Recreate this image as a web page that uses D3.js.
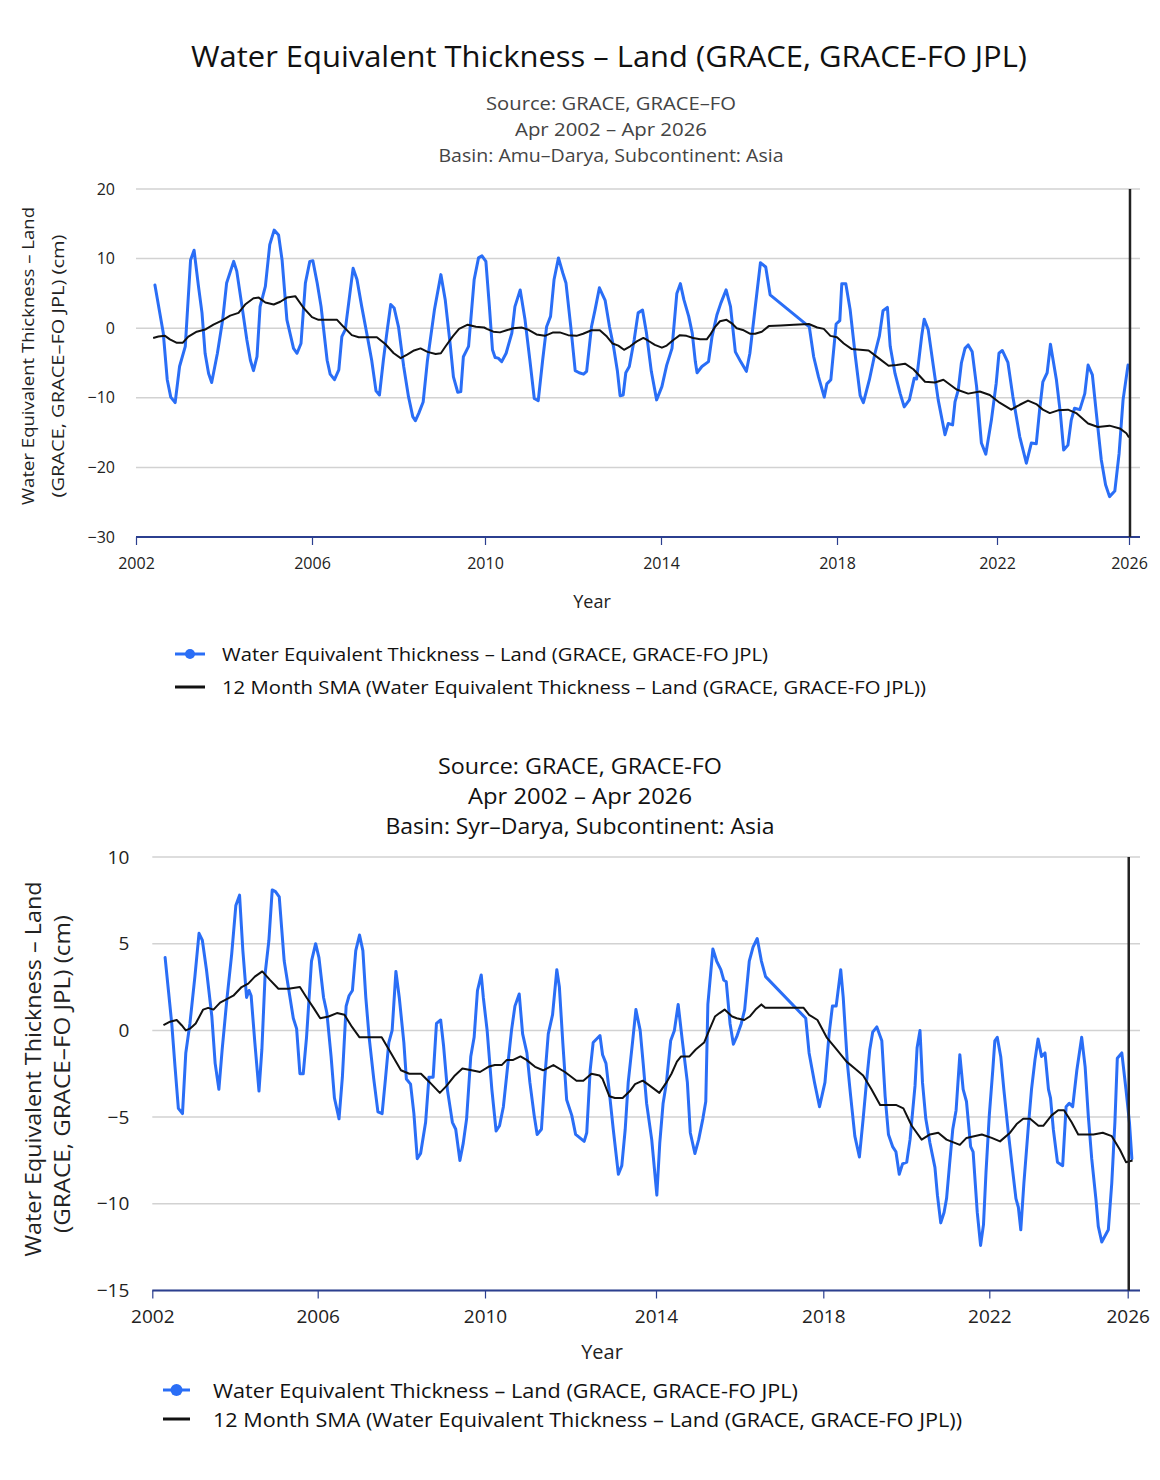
<!DOCTYPE html>
<html>
<head>
<meta charset="utf-8">
<script src="https://cdn.jsdelivr.net/npm/d3@7"></script>
<style>
  html, body { margin: 0; padding: 0; background: #fff; }
  svg { display: block; font-family: "Open Sans", "Noto Sans", sans-serif; }
</style>
</head>
<body>
<svg id="chart" width="1160" height="1480"></svg>
<script>
// ---------------- DATA ----------------
const tickYears = [2002, 2006, 2010, 2014, 2018, 2022, 2026];
const markerYear = 2026.03;

const amuTicks = [-30, -20, -10, 0, 10, 20];
const syrTicks = [-15, -10, -5, 0, 5, 10];

// Amu-Darya, monthly water equivalent thickness (cm) [decimal year, value]
const amuWet = [
[2002.43,6.2],[2002.62,-0.7],[2002.71,-7.4],[2002.79,-9.9],[2002.89,-10.7],[2002.99,-5.5],[2003.12,-2.6],
[2003.24,9.8],[2003.32,11.2],[2003.42,6.0],[2003.50,2.2],[2003.57,-3.6],[2003.65,-6.5],[2003.72,-7.8],
[2003.85,-3.6],[2003.97,1.2],[2004.06,6.5],[2004.22,9.6],[2004.29,8.2],[2004.41,3.1],[2004.52,-1.7],
[2004.60,-4.6],[2004.67,-6.1],[2004.75,-4.1],[2004.82,3.1],[2004.94,6.0],[2005.04,12.0],[2005.14,14.1],
[2005.24,13.4],[2005.32,9.8],[2005.43,1.2],[2005.58,-2.9],[2005.66,-3.6],[2005.75,-2.2],[2005.85,6.5],
[2005.95,9.6],[2006.02,9.7],[2006.12,6.5],[2006.21,3.1],[2006.35,-4.6],[2006.42,-6.6],[2006.52,-7.4],
[2006.62,-6.0],[2006.69,-1.2],[2006.77,-0.2],[2006.95,8.6],[2007.04,7.0],[2007.15,3.1],[2007.28,-1.2],
[2007.38,-4.6],[2007.48,-9.0],[2007.56,-9.6],[2007.65,-4.6],[2007.73,-0.7],[2007.82,3.4],[2007.90,2.9],
[2008.00,0.2],[2008.12,-5.5],[2008.23,-9.8],[2008.33,-12.7],[2008.39,-13.3],[2008.47,-12.2],[2008.57,-10.6],
[2008.67,-4.6],[2008.83,2.6],[2008.98,7.7],[2009.08,4.1],[2009.20,-2.6],[2009.27,-7.0],[2009.37,-9.2],
[2009.44,-9.1],[2009.50,-4.1],[2009.62,-2.6],[2009.75,7.0],[2009.85,10.1],[2009.93,10.4],[2010.02,9.6],
[2010.10,3.1],[2010.17,-3.1],[2010.23,-4.2],[2010.30,-4.3],[2010.38,-4.8],[2010.48,-3.6],[2010.61,-0.7],
[2010.68,3.1],[2010.80,5.5],[2010.91,1.2],[2011.02,-4.6],[2011.12,-10.1],[2011.21,-10.4],[2011.31,-4.6],
[2011.40,0.2],[2011.49,1.7],[2011.57,7.0],[2011.67,10.1],[2011.77,7.9],[2011.84,6.5],[2011.95,0.2],
[2012.05,-6.1],[2012.14,-6.4],[2012.24,-6.6],[2012.31,-6.2],[2012.42,0.2],[2012.50,2.6],[2012.60,5.8],
[2012.73,4.0],[2012.83,0.2],[2012.92,-2.6],[2013.01,-6.2],[2013.07,-9.7],[2013.14,-9.6],[2013.20,-6.4],
[2013.28,-5.5],[2013.39,-1.7],[2013.48,2.2],[2013.58,2.6],[2013.67,-0.7],[2013.78,-6.2],[2013.90,-10.3],
[2014.02,-8.4],[2014.13,-5.3],[2014.25,-2.9],[2014.36,5.0],[2014.44,6.4],[2014.52,4.1],[2014.63,1.7],
[2014.71,-0.7],[2014.78,-4.8],[2014.82,-6.4],[2014.93,-5.5],[2015.08,-4.8],[2015.16,-1.2],[2015.27,1.9],
[2015.36,3.6],[2015.48,5.5],[2015.58,3.1],[2015.69,-3.4],[2015.81,-4.8],[2015.94,-6.2],[2016.02,-3.6],
[2016.13,2.4],[2016.26,9.4],[2016.38,8.8],[2016.48,4.8],[2017.37,0.2],[2017.47,-4.1],[2017.58,-7.0],
[2017.71,-9.9],[2017.77,-8.0],[2017.86,-7.4],[2017.98,0.6],[2018.07,1.1],[2018.12,6.4],[2018.22,6.4],
[2018.33,2.6],[2018.46,-4.1],[2018.58,-9.7],[2018.66,-10.7],[2018.81,-7.4],[2018.95,-3.6],[2019.06,-1.1],
[2019.15,2.5],[2019.26,3.0],[2019.33,-2.6],[2019.45,-6.5],[2019.58,-9.4],[2019.68,-11.3],[2019.81,-10.3],
[2019.93,-7.2],[2019.99,-7.3],[2020.12,-1.0],[2020.18,1.3],[2020.28,-0.2],[2020.41,-5.5],[2020.53,-10.3],
[2020.70,-15.3],[2020.78,-13.7],[2020.89,-13.9],[2020.95,-10.6],[2021.03,-8.9],[2021.11,-5.0],[2021.20,-2.9],
[2021.28,-2.4],[2021.38,-3.4],[2021.49,-8.4],[2021.61,-16.5],[2021.72,-18.1],[2021.86,-13.2],[2021.98,-7.9],
[2022.06,-3.6],[2022.16,-3.2],[2022.33,-4.9],[2022.48,-9.8],[2022.69,-15.6],[2022.89,-19.4],[2023.04,-16.5],
[2023.19,-16.6],[2023.29,-11.8],[2023.39,-7.7],[2023.52,-6.4],[2023.62,-2.3],[2023.80,-7.4],[2023.92,-12.2],
[2024.02,-17.5],[2024.15,-16.8],[2024.25,-13.2],[2024.35,-11.5],[2024.51,-11.7],[2024.66,-9.4],[2024.76,-5.3],
[2024.89,-6.7],[2025.01,-12.2],[2025.16,-18.9],[2025.29,-22.5],[2025.41,-24.2],[2025.57,-23.4],[2025.70,-18.0],
[2025.82,-10.3],[2025.97,-5.3]
];

// Amu-Darya, 12 month simple moving average
const amuSma = [
[2002.39,-1.4],[2002.51,-1.2],[2002.66,-1.1],[2002.77,-1.6],[2002.93,-2.1],[2003.06,-2.1],[2003.19,-1.2],
[2003.38,-0.5],[2003.57,-0.2],[2003.76,0.5],[2003.95,1.1],[2004.14,1.8],[2004.33,2.2],[2004.48,3.4],
[2004.67,4.3],[2004.79,4.4],[2004.94,3.7],[2005.13,3.4],[2005.28,3.8],[2005.43,4.4],[2005.62,4.6],
[2005.81,2.9],[2006.00,1.6],[2006.15,1.2],[2006.35,1.2],[2006.58,1.2],[2006.73,0.2],[2006.92,-1.0],
[2007.08,-1.3],[2007.27,-1.3],[2007.50,-1.3],[2007.70,-2.3],[2007.89,-3.6],[2008.05,-4.3],[2008.20,-3.8],
[2008.36,-3.2],[2008.51,-2.9],[2008.67,-3.4],[2008.86,-3.7],[2008.98,-3.6],[2009.09,-2.6],[2009.25,-1.2],
[2009.40,-0.1],[2009.60,0.5],[2009.79,0.2],[2009.98,0.1],[2010.04,-0.1],[2010.19,-0.5],[2010.34,-0.6],
[2010.49,-0.3],[2010.64,0.0],[2010.83,0.1],[2010.98,-0.2],[2011.17,-0.9],[2011.36,-1.1],[2011.55,-0.6],
[2011.70,-0.6],[2011.89,-1.0],[2012.08,-1.1],[2012.23,-0.8],[2012.42,-0.3],[2012.61,-0.3],[2012.77,-1.2],
[2012.90,-2.2],[2013.03,-2.5],[2013.16,-3.1],[2013.30,-2.6],[2013.45,-1.9],[2013.60,-1.4],[2013.71,-1.8],
[2013.86,-2.4],[2014.02,-2.8],[2014.13,-2.5],[2014.28,-1.7],[2014.43,-1.0],[2014.58,-1.1],[2014.73,-1.4],
[2014.89,-1.6],[2015.04,-1.6],[2015.11,-1.0],[2015.23,0.2],[2015.34,1.0],[2015.49,1.2],[2015.61,0.7],
[2015.72,0.0],[2015.88,-0.3],[2016.03,-0.8],[2016.14,-0.8],[2016.29,-0.5],[2016.45,0.3],[2016.72,0.4],
[2017.02,0.5],[2017.36,0.6],[2017.55,0.1],[2017.70,-0.1],[2017.85,-1.1],[2018.00,-1.3],[2018.17,-2.2],
[2018.37,-3.0],[2018.58,-3.1],[2018.79,-3.2],[2019.04,-4.3],[2019.29,-5.4],[2019.49,-5.3],[2019.70,-5.1],
[2019.91,-5.9],[2020.20,-7.7],[2020.45,-7.8],[2020.66,-7.4],[2020.99,-8.8],[2021.28,-9.4],[2021.57,-9.1],
[2021.82,-9.6],[2022.08,-10.7],[2022.43,-11.7],[2022.69,-11.0],[2022.94,-10.4],[2023.19,-10.9],[2023.39,-11.7],
[2023.60,-12.2],[2023.85,-11.8],[2024.15,-11.7],[2024.40,-12.2],[2024.76,-13.7],[2025.06,-14.2],[2025.41,-14.0],
[2025.72,-14.4],[2025.92,-15.1],[2026.00,-15.7]
];

// Syr-Darya, monthly water equivalent thickness (cm)
const syrWet = [
[2002.31,4.2],[2002.39,2.3],[2002.47,0.4],[2002.55,-2.1],[2002.63,-4.5],[2002.73,-4.8],[2002.81,-1.3],
[2002.91,0.4],[2003.03,3.1],[2003.13,5.6],[2003.21,5.2],[2003.31,3.5],[2003.44,0.8],[2003.52,-1.9],
[2003.61,-3.4],[2003.69,-1.1],[2003.80,1.7],[2003.92,4.4],[2004.02,7.2],[2004.11,7.8],[2004.19,4.6],
[2004.28,1.9],[2004.34,2.3],[2004.39,2.0],[2004.48,-0.7],[2004.58,-3.5],[2004.65,-1.1],[2004.73,3.3],
[2004.82,5.2],[2004.90,8.1],[2004.98,8.0],[2005.07,7.7],[2005.19,4.0],[2005.29,2.5],[2005.41,0.7],
[2005.49,0.1],[2005.57,-2.5],[2005.65,-2.5],[2005.73,-0.4],[2005.85,4.0],[2005.95,5.0],[2006.03,4.2],
[2006.14,1.9],[2006.22,1.0],[2006.32,-1.5],[2006.40,-3.9],[2006.51,-5.1],[2006.59,-2.7],[2006.68,1.4],
[2006.75,2.0],[2006.83,2.3],[2006.91,4.6],[2007.00,5.5],[2007.08,4.6],[2007.15,1.9],[2007.23,-0.4],
[2007.34,-2.8],[2007.44,-4.7],[2007.54,-4.8],[2007.62,-2.8],[2007.70,-0.7],[2007.78,0.0],[2007.87,3.4],
[2007.95,1.9],[2008.06,-0.7],[2008.12,-2.8],[2008.22,-3.1],[2008.30,-4.8],[2008.38,-7.4],[2008.46,-7.1],
[2008.58,-5.3],[2008.66,-2.7],[2008.76,-2.7],[2008.84,0.4],[2008.94,0.6],[2009.01,-0.9],[2009.10,-3.4],
[2009.22,-5.3],[2009.30,-5.7],[2009.40,-7.5],[2009.48,-6.5],[2009.56,-5.1],[2009.66,-1.5],[2009.74,-0.4],
[2009.82,2.3],[2009.91,3.2],[2009.96,1.9],[2010.05,0.0],[2010.16,-3.4],[2010.26,-5.8],[2010.34,-5.5],
[2010.43,-4.4],[2010.52,-2.3],[2010.62,0.0],[2010.70,1.4],[2010.80,2.1],[2010.88,-0.2],[2010.98,-1.3],
[2011.05,-3.0],[2011.15,-4.9],[2011.22,-6.0],[2011.32,-5.7],[2011.40,-2.7],[2011.48,-0.2],[2011.58,0.9],
[2011.68,3.5],[2011.74,2.5],[2011.82,-0.7],[2011.91,-4.0],[2012.03,-4.9],[2012.12,-6.0],[2012.22,-6.2],
[2012.32,-6.4],[2012.38,-5.9],[2012.46,-2.3],[2012.53,-0.7],[2012.61,-0.5],[2012.69,-0.3],[2012.75,-1.4],
[2012.83,-1.9],[2012.91,-3.6],[2013.00,-5.7],[2013.12,-8.3],[2013.20,-7.8],[2013.28,-5.7],[2013.35,-3.0],
[2013.45,-0.7],[2013.53,1.2],[2013.63,0.0],[2013.70,-1.9],[2013.78,-4.2],[2013.90,-6.3],[2014.02,-9.5],
[2014.09,-6.5],[2014.17,-4.2],[2014.25,-3.0],[2014.35,-0.6],[2014.44,0.0],[2014.53,1.5],[2014.63,-0.6],
[2014.75,-3.0],[2014.82,-5.9],[2014.93,-7.1],[2015.02,-6.3],[2015.12,-5.1],[2015.19,-4.1],[2015.24,1.5],
[2015.36,4.7],[2015.45,4.0],[2015.55,3.5],[2015.62,2.9],[2015.68,2.8],[2015.77,0.4],[2015.85,-0.8],
[2015.94,-0.3],[2016.04,0.4],[2016.12,1.2],[2016.23,4.0],[2016.32,4.8],[2016.42,5.3],[2016.52,4.0],
[2016.62,3.1],[2017.58,0.7],[2017.66,-1.3],[2017.79,-3.0],[2017.91,-4.4],[2018.04,-3.0],[2018.14,-0.2],
[2018.22,1.4],[2018.31,1.4],[2018.42,3.5],[2018.48,1.9],[2018.58,-1.9],[2018.66,-3.8],[2018.76,-6.1],
[2018.87,-7.3],[2018.96,-5.1],[2019.04,-3.0],[2019.12,-1.1],[2019.19,-0.1],[2019.29,0.2],[2019.41,-0.6],
[2019.49,-3.8],[2019.57,-6.0],[2019.67,-6.7],[2019.75,-7.0],[2019.83,-8.3],[2019.91,-7.7],[2020.01,-7.6],
[2020.09,-6.3],[2020.21,-3.2],[2020.26,-1.0],[2020.33,0.0],[2020.39,-3.0],[2020.47,-5.1],[2020.57,-6.5],
[2020.69,-7.9],[2020.75,-9.5],[2020.83,-11.1],[2020.91,-10.5],[2020.97,-9.7],[2021.04,-7.8],[2021.12,-5.7],
[2021.20,-4.6],[2021.29,-1.4],[2021.37,-3.4],[2021.45,-4.1],[2021.55,-6.7],[2021.61,-7.0],[2021.71,-10.5],
[2021.79,-12.4],[2021.86,-11.2],[2021.92,-8.2],[2022.00,-4.9],[2022.10,-2.3],[2022.16,-0.6],[2022.23,-0.4],
[2022.33,-1.5],[2022.42,-3.4],[2022.55,-5.9],[2022.67,-8.0],[2022.77,-9.7],[2022.84,-10.2],[2022.91,-11.5],
[2023.00,-8.8],[2023.13,-5.5],[2023.22,-3.4],[2023.32,-1.7],[2023.41,-0.5],[2023.51,-1.5],[2023.61,-1.3],
[2023.71,-3.4],[2023.77,-3.9],[2023.85,-5.7],[2023.97,-7.6],[2024.12,-7.8],[2024.22,-4.4],[2024.31,-4.2],
[2024.41,-4.4],[2024.53,-2.3],[2024.67,-0.4],[2024.77,-2.1],[2024.86,-4.9],[2024.96,-7.4],[2025.08,-9.7],
[2025.15,-11.3],[2025.25,-12.2],[2025.44,-11.5],[2025.54,-8.8],[2025.63,-5.3],[2025.70,-1.6],[2025.83,-1.3],
[2025.95,-3.4],[2026.05,-5.3],[2026.12,-7.4]
];

// Syr-Darya, 12 month simple moving average
const syrSma = [
[2002.27,0.3],[2002.43,0.5],[2002.59,0.6],[2002.71,0.3],[2002.81,0.0],[2002.91,0.1],[2003.05,0.4],
[2003.23,1.2],[2003.35,1.3],[2003.48,1.2],[2003.64,1.6],[2003.80,1.8],[2003.96,2.0],[2004.16,2.5],
[2004.32,2.7],[2004.48,3.1],[2004.66,3.4],[2004.85,2.9],[2005.05,2.4],[2005.29,2.4],[2005.57,2.5],
[2005.73,1.9],[2005.90,1.3],[2006.06,0.7],[2006.26,0.8],[2006.46,1.0],[2006.64,0.9],[2006.82,0.2],
[2007.00,-0.4],[2007.26,-0.4],[2007.53,-0.4],[2007.75,-1.3],[2007.99,-2.3],[2008.19,-2.5],[2008.47,-2.5],
[2008.68,-3.0],[2008.92,-3.6],[2009.08,-3.2],[2009.28,-2.6],[2009.46,-2.2],[2009.68,-2.3],[2009.88,-2.4],
[2010.08,-2.1],[2010.23,-2.0],[2010.39,-2.0],[2010.51,-1.7],[2010.66,-1.7],[2010.83,-1.5],[2010.97,-1.7],
[2011.17,-2.1],[2011.36,-2.3],[2011.60,-2.0],[2011.87,-2.4],[2012.14,-2.9],[2012.30,-2.9],[2012.49,-2.5],
[2012.68,-2.6],[2012.75,-2.8],[2012.91,-3.8],[2013.04,-3.9],[2013.22,-3.9],[2013.39,-3.5],[2013.51,-3.1],
[2013.69,-2.9],[2013.86,-3.2],[2014.08,-3.6],[2014.25,-3.0],[2014.37,-2.5],[2014.50,-1.8],[2014.60,-1.5],
[2014.80,-1.5],[2014.95,-1.1],[2015.15,-0.7],[2015.27,0.0],[2015.41,0.8],[2015.52,1.0],[2015.64,1.2],
[2015.82,0.8],[2015.93,0.7],[2016.11,0.6],[2016.24,0.8],[2016.38,1.2],[2016.52,1.5],[2016.61,1.3],
[2016.91,1.3],[2017.23,1.3],[2017.53,1.3],[2017.66,0.9],[2017.86,0.6],[2018.08,-0.4],[2018.32,-1.1],
[2018.56,-1.8],[2018.76,-2.2],[2018.96,-2.6],[2019.16,-3.4],[2019.37,-4.3],[2019.57,-4.3],[2019.75,-4.3],
[2019.93,-4.5],[2020.13,-5.5],[2020.37,-6.3],[2020.57,-6.0],[2020.77,-5.9],[2020.97,-6.3],[2021.29,-6.6],
[2021.45,-6.2],[2021.82,-6.0],[2022.07,-6.2],[2022.31,-6.4],[2022.60,-5.9],[2022.79,-5.4],[2022.98,-5.1],
[2023.18,-5.1],[2023.42,-5.5],[2023.56,-5.5],[2023.80,-4.9],[2023.99,-4.6],[2024.16,-4.6],[2024.38,-5.3],
[2024.57,-6.0],[2024.81,-6.0],[2025.01,-6.0],[2025.28,-5.9],[2025.54,-6.1],[2025.78,-6.9],[2025.95,-7.6],
[2026.14,-7.5]
];

const seriesNames = [
  "Water Equivalent Thickness \u2013 Land (GRACE, GRACE-FO JPL)",
  "12 Month SMA (Water Equivalent Thickness \u2013 Land (GRACE, GRACE-FO JPL))"
];

// ---------------- DRAW ----------------
const svg = d3.select("#chart");
const BLUE = "#2a6ef6";
const AXIS = "#2b3f8f";

function drawPanel(cfg) {
  const g = svg.append("g");
  const x = d3.scaleLinear().domain(tickYears).range(cfg.xRange);
  const y = d3.scaleLinear().domain(cfg.yDomain).range(cfg.yRange);
  const x0 = cfg.xRange[0], x1 = cfg.xEnd;

  // gridlines
  g.append("g").selectAll("line").data(cfg.yTicks).join("line")
    .attr("x1", x0).attr("x2", x1)
    .attr("y1", d => y(d)).attr("y2", d => y(d))
    .attr("stroke", "#d2d2d2").attr("stroke-width", 1.5);

  // y axis (labels only)
  const ya = d3.axisLeft(y).tickValues(cfg.yTicks).tickSize(0).tickPadding(cfg.yPad);
  const yg = g.append("g").attr("transform", `translate(${x0},0)`).call(ya);
  yg.select(".domain").remove();
  yg.selectAll("text").attr("font-size", cfg.tickFont).attr("fill", "#222")
    .attr("font-family", "'Open Sans', sans-serif");

  // lines
  const line = d3.line().x(d => x(d[0])).y(d => y(d[1]));
  g.append("path").datum(cfg.wet).attr("d", line)
    .attr("fill", "none").attr("stroke", BLUE).attr("stroke-width", 3)
    .attr("stroke-linejoin", "round").attr("stroke-linecap", "round");
  g.append("path").datum(cfg.sma).attr("d", line)
    .attr("fill", "none").attr("stroke", "#111").attr("stroke-width", 2)
    .attr("stroke-linejoin", "round");

  // x axis
  const xa = d3.axisBottom(x).tickValues(tickYears).tickFormat(d3.format("d"))
    .tickSize(8).tickPadding(cfg.xPad);
  const xg = g.append("g").attr("transform", `translate(0,${cfg.yRange[0]})`).call(xa);
  xg.select(".domain").remove();
  xg.selectAll(".tick line").attr("stroke", AXIS).attr("stroke-width", 1.2);
  xg.selectAll("text").attr("font-size", cfg.tickFont).attr("fill", "#222")
    .attr("font-family", "'Open Sans', sans-serif");
  g.append("line").attr("x1", x0).attr("x2", x1)
    .attr("y1", cfg.yRange[0]).attr("y2", cfg.yRange[0])
    .attr("stroke", AXIS).attr("stroke-width", 2);

  // current-time marker
  g.append("line").attr("x1", x(markerYear)).attr("x2", x(markerYear))
    .attr("y1", cfg.yRange[1]).attr("y2", cfg.yRange[0])
    .attr("stroke", "#222").attr("stroke-width", 2.5);

  // axis titles
  g.append("text").attr("x", cfg.xTitle[0]).attr("y", cfg.xTitle[1])
    .attr("text-anchor", "middle").attr("dominant-baseline", "central")
    .attr("font-size", cfg.xTitleFont).attr("fill", "#222").text("Year");
  cfg.yTitle.forEach(t => {
    g.append("text").attr("transform", `translate(${t.x},${t.cy}) rotate(-90)`)
      .attr("text-anchor", "middle").attr("dominant-baseline", "central")
      .attr("font-size", cfg.yTitleFont).attr("fill", "#222")
      .attr("textLength", t.len).attr("lengthAdjust", "spacingAndGlyphs")
      .text(t.text);
  });

  // subtitles
  cfg.subs.forEach(s => {
    g.append("text").attr("x", cfg.subX).attr("y", s.y)
      .attr("text-anchor", "middle").attr("dominant-baseline", "central")
      .attr("font-size", cfg.subFont).attr("fill", cfg.subColor)
      .attr("textLength", s.len).attr("lengthAdjust", "spacingAndGlyphs")
      .text(s.text);
  });

  // legend
  const L = cfg.legend;
  const lg = g.append("g");
  lg.append("line").attr("x1", L.mx0).attr("x2", L.mx1).attr("y1", L.y[0]).attr("y2", L.y[0])
    .attr("stroke", BLUE).attr("stroke-width", 3);
  lg.append("circle").attr("cx", (L.mx0 + L.mx1) / 2).attr("cy", L.y[0]).attr("r", L.r)
    .attr("fill", BLUE);
  lg.append("line").attr("x1", L.mx0).attr("x2", L.mx1).attr("y1", L.y[1]).attr("y2", L.y[1])
    .attr("stroke", "#111").attr("stroke-width", 3);
  seriesNames.forEach((n, i) => {
    lg.append("text").attr("x", L.tx).attr("y", L.y[i])
      .attr("dominant-baseline", "central").attr("font-size", L.font).attr("fill", "#111")
      .attr("textLength", L.len[i]).attr("lengthAdjust", "spacingAndGlyphs")
      .text(n);
  });
}

// main title
svg.append("text").attr("x", 609).attr("y", 55)
  .attr("text-anchor", "middle").attr("dominant-baseline", "central")
  .attr("font-size", 30).attr("fill", "#111")
  .attr("textLength", 836).attr("lengthAdjust", "spacingAndGlyphs")
  .text("Water Equivalent Thickness \u2013 Land (GRACE, GRACE-FO JPL)");

drawPanel({
  wet: amuWet, sma: amuSma,
  xRange: [136, 312, 485, 661, 837, 997, 1129], xEnd: 1140,
  yDomain: [-30, 20], yRange: [537, 189], yTicks: amuTicks,
  yPad: 21, xPad: 13, tickFont: 16,
  xTitle: [592, 601], xTitleFont: 18,
  yTitleFont: 17,
  yTitle: [
    { text: "Water Equivalent Thickness \u2013 Land", x: 27, cy: 356, len: 298 },
    { text: "(GRACE, GRACE\u2013FO JPL) (cm)", x: 57, cy: 366, len: 263 }
  ],
  subX: 611, subFont: 18.5, subColor: "#444",
  subs: [
    { text: "Source: GRACE, GRACE\u2013FO", y: 102, len: 250 },
    { text: "Apr 2002 \u2013 Apr 2026", y: 128, len: 192 },
    { text: "Basin: Amu\u2013Darya, Subcontinent: Asia", y: 154, len: 345 }
  ],
  legend: { mx0: 175, mx1: 205, r: 5, tx: 222, y: [654, 687], font: 19, len: [546, 704] }
});

drawPanel({
  wet: syrWet, sma: syrSma,
  xRange: [152.3, 317.7, 485, 656, 823.3, 989.3, 1127.7], xEnd: 1140,
  yDomain: [-15, 10], yRange: [1290.5, 857], yTicks: syrTicks,
  yPad: 23, xPad: 11, tickFont: 19,
  xTitle: [602, 1351], xTitleFont: 20,
  yTitleFont: 21,
  yTitle: [
    { text: "Water Equivalent Thickness \u2013 Land", x: 33, cy: 1069, len: 375 },
    { text: "(GRACE, GRACE\u2013FO JPL) (cm)", x: 62, cy: 1074, len: 318 }
  ],
  subX: 580, subFont: 22, subColor: "#111",
  subs: [
    { text: "Source: GRACE, GRACE-FO", y: 765, len: 284 },
    { text: "Apr 2002 \u2013 Apr 2026", y: 795, len: 224 },
    { text: "Basin: Syr\u2013Darya, Subcontinent: Asia", y: 825, len: 389 }
  ],
  legend: { mx0: 163, mx1: 190, r: 6, tx: 213, y: [1390, 1419], font: 19.5, len: [585, 749] }
});
</script>
</body>
</html>
